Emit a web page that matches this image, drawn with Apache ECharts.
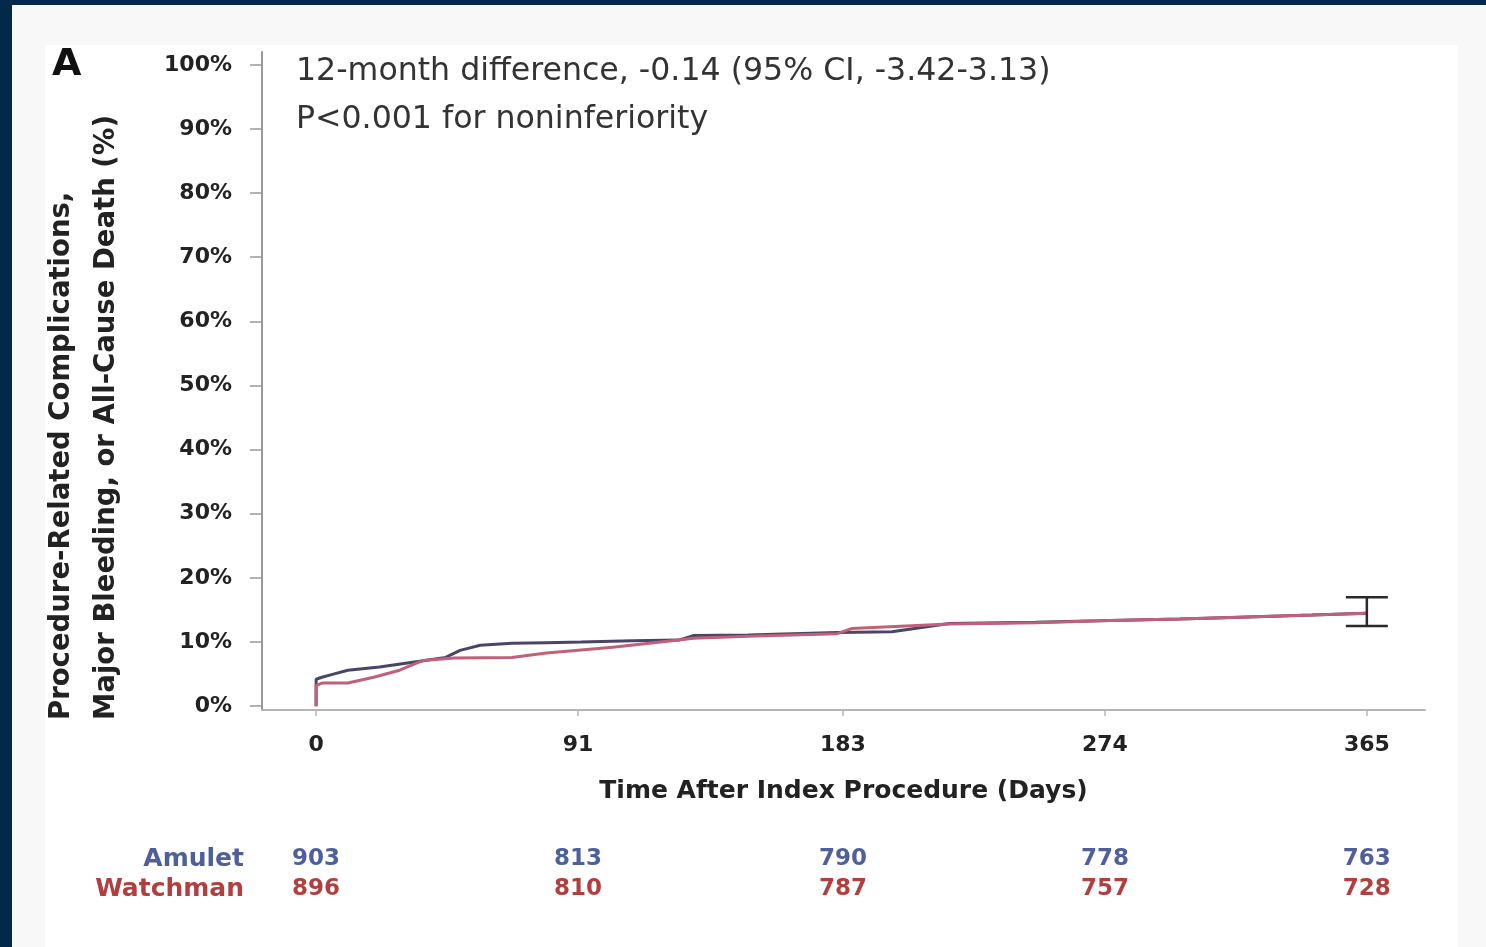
<!DOCTYPE html>
<html>
<head>
<meta charset="utf-8">
<script src="https://cdn.jsdelivr.net/npm/echarts@6/dist/echarts.min.js"></script>
<style>
  html, body { margin: 0; padding: 0; background: #f8f8f8; width: 1486px; height: 947px; overflow: hidden; }
  .navyTop { position: absolute; left: 0; top: 0; width: 1486px; height: 5px; background: #02284a; }
  .navyLeft { position: absolute; left: 0; top: 0; width: 12px; height: 947px; background: #02284a; }
  .panel { position: absolute; left: 45px; top: 45px; width: 1413px; height: 902px; background: #ffffff; }
  #chart { position: absolute; left: 0; top: 0; width: 1486px; height: 947px; }
</style>
</head>
<body>
<div class="navyTop"></div>
<div class="navyLeft"></div>
<div class="panel"></div>
<div id="chart"></div>
<script>
// ---------- data ----------
const yTicks = [0, 10, 20, 30, 40, 50, 60, 70, 80, 90, 100];
const xTicks = [0, 91, 183, 274, 365];

const amuletDays = [0, 0, 2, 6, 11, 22, 36, 45, 50, 57, 68, 80, 92, 110, 126, 131, 150, 181, 200, 220, 250, 272, 300, 315, 346, 365];
const amuletPct  = [0, 4.2, 4.5, 5.0, 5.6, 6.1, 7.0, 7.6, 8.7, 9.5, 9.8, 9.9, 10.0, 10.2, 10.3, 11.0, 11.1, 11.5, 11.6, 12.9, 13.1, 13.3, 13.6, 13.8, 14.2, 14.5];

const watchmanDays = [0, 0, 2, 11, 20, 29, 37, 48, 68, 80, 103, 126, 131, 150, 181, 186, 220, 250, 272, 300, 315, 346, 365];
const watchmanPct  = [0, 3.2, 3.6, 3.6, 4.5, 5.6, 7.1, 7.5, 7.6, 8.3, 9.2, 10.3, 10.6, 10.9, 11.3, 12.1, 12.8, 13.0, 13.3, 13.6, 13.8, 14.2, 14.5];

const ciDay = 365;
const ciLow = 12.5;
const ciHigh = 17.0;

const riskDays = [0, 91, 183, 274, 365];
const amuletAtRisk = [903, 813, 790, 778, 763];
const watchmanAtRisk = [896, 810, 787, 757, 728];
const groups = ['Watchman', 'Amulet'];

const titleLines = ['12-month difference, -0.14 (95% CI, -3.42-3.13)', 'P<0.001 for noninferiority'];
const yTitleLines = ['Procedure-Related Complications,', 'Major Bleeding, or All-Cause Death (%)'];
const xTitle = 'Time After Index Procedure (Days)';
const panelLetter = 'A';

// ---------- style ----------
const FONT = 'DejaVu Sans';
const amuletLine = '#4a4566';
const watchmanLine = '#c0607a';
const amuletText = '#4f5f9c';
const watchmanText = '#b23f3f';
const groupColor = { Amulet: amuletText, Watchman: watchmanText };

const xMin = -18.8, xMax = 385.2;

const chart = echarts.init(document.getElementById('chart'), null, { renderer: 'canvas' });

const option = {
  animation: false,
  backgroundColor: 'transparent',
  title: {
    text: titleLines.join('\n'),
    left: 296,
    top: 48,
    padding: 0,
    textStyle: { fontFamily: FONT, fontSize: 31.6, fontWeight: 'normal', color: '#333333', lineHeight: 48 }
  },
  graphic: [
    { type: 'text', left: 52, top: 46, style: { text: panelLetter, font: 'bold 38px "DejaVu Sans"', fill: '#111111' } },
    { type: 'text', x: 62, y: 720, rotation: Math.PI / 2,
      style: { text: yTitleLines[0], font: 'bold 27.5px "DejaVu Sans"', fill: '#222222', align: 'left', verticalAlign: 'middle' } },
    { type: 'text', x: 107, y: 720, rotation: Math.PI / 2,
      style: { text: yTitleLines[1], font: 'bold 27.5px "DejaVu Sans"', fill: '#222222', align: 'left', verticalAlign: 'middle' } }
  ],
  grid: [
    { left: 262, right: 61, top: 52, bottom: 237 },
    { left: 262, right: 61, top: 844, height: 60 }
  ],
  xAxis: [
    {
      gridIndex: 0, type: 'value', min: xMin, max: xMax,
      axisLine: { show: true, onZero: false, lineStyle: { color: '#b5b5b5', width: 2 } },
      axisTick: { show: true, customValues: xTicks, length: 6, lineStyle: { color: '#b5b5b5', width: 1.5 } },
      axisLabel: { customValues: xTicks, margin: 24, fontFamily: FONT, fontSize: 22, fontWeight: 'bold', color: '#222222' },
      splitLine: { show: false },
      name: xTitle, nameLocation: 'middle', nameGap: 69,
      nameTextStyle: { fontFamily: FONT, fontSize: 25, fontWeight: 'bold', color: '#222222' }
    },
    {
      gridIndex: 1, type: 'value', min: xMin, max: xMax, show: false
    }
  ],
  yAxis: [
    {
      gridIndex: 0, type: 'value', min: -0.6, max: 102,
      axisLine: { show: true, onZero: false, lineStyle: { color: '#9a9a9a', width: 2 } },
      axisTick: { show: true, customValues: yTicks, length: 12, lineStyle: { color: '#9a9a9a', width: 1.5 } },
      axisLabel: { customValues: yTicks, margin: 30, formatter: v => v + '%', fontFamily: FONT, fontSize: 22, fontWeight: 'bold', color: '#222222' },
      splitLine: { show: false }
    },
    {
      gridIndex: 1, type: 'category', data: groups,
      axisLine: { show: false }, axisTick: { show: false }, splitLine: { show: false },
      axisLabel: { interval: 0, hideOverlap: false, margin: 18, fontFamily: FONT, fontSize: 25, fontWeight: 'bold',
        color: (value) => groupColor[value] }
    }
  ],
  series: [
    {
      name: 'Amulet', type: 'line', xAxisIndex: 0, yAxisIndex: 0,
      data: amuletDays.map((d, i) => [d, amuletPct[i]]),
      showSymbol: false, lineStyle: { color: amuletLine, width: 3 }, z: 3
    },
    {
      name: 'Watchman', type: 'line', xAxisIndex: 0, yAxisIndex: 0,
      data: watchmanDays.map((d, i) => [d, watchmanPct[i]]),
      showSymbol: false, lineStyle: { color: watchmanLine, width: 3 }, z: 4
    },
    {
      name: 'CI', type: 'custom', xAxisIndex: 0, yAxisIndex: 0,
      data: [[ciDay, ciLow, ciHigh]],
      renderItem: function (params, api) {
        const lo = api.coord([api.value(0), api.value(1)]);
        const hi = api.coord([api.value(0), api.value(2)]);
        const half = 21;
        const style = { stroke: '#2a2a2a', lineWidth: 2.5 };
        return {
          type: 'group',
          children: [
            { type: 'line', shape: { x1: lo[0], y1: lo[1], x2: hi[0], y2: hi[1] }, style: style },
            { type: 'line', shape: { x1: lo[0] - half, y1: lo[1], x2: lo[0] + half, y2: lo[1] }, style: style },
            { type: 'line', shape: { x1: hi[0] - half, y1: hi[1], x2: hi[0] + half, y2: hi[1] }, style: style }
          ]
        };
      },
      z: 5
    },
    {
      name: 'Amulet at risk', type: 'scatter', xAxisIndex: 1, yAxisIndex: 1,
      data: riskDays.map((d, i) => [d, 'Amulet', amuletAtRisk[i]]),
      symbolSize: 1, itemStyle: { color: 'transparent', opacity: 1 },
      label: { show: true, position: 'inside', formatter: p => p.value[2],
        fontFamily: FONT, fontSize: 23, fontWeight: 'bold', color: amuletText }
    },
    {
      name: 'Watchman at risk', type: 'scatter', xAxisIndex: 1, yAxisIndex: 1,
      data: riskDays.map((d, i) => [d, 'Watchman', watchmanAtRisk[i]]),
      symbolSize: 1, itemStyle: { color: 'transparent', opacity: 1 },
      label: { show: true, position: 'inside', formatter: p => p.value[2],
        fontFamily: FONT, fontSize: 23, fontWeight: 'bold', color: watchmanText }
    }
  ]
};

chart.setOption(option);
</script>
</body>
</html>
